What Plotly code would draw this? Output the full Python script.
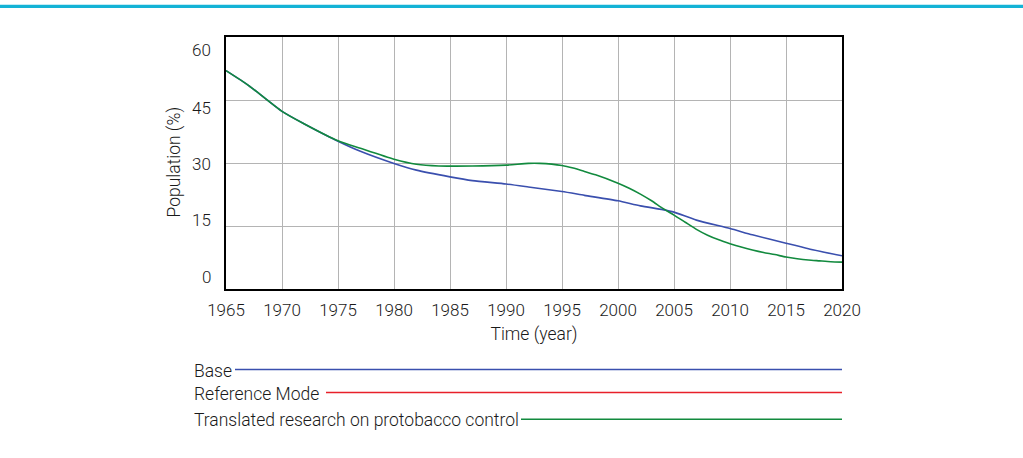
import plotly.graph_objects as go

# Simulated share of the population (%) per year, two scenarios
years = [1965, 1967, 1970, 1972, 1975, 1977, 1980, 1982, 1985, 1987, 1990, 1992,
         1995, 1997, 2000, 2002, 2004, 2005, 2007, 2010, 2012, 2015, 2017, 2020]
base = [52.0, 48.5, 42.3, 39.3, 35.2, 32.8, 29.9, 28.3, 26.7, 25.8, 25.0, 24.3,
        23.2, 22.3, 21.0, 19.8, 18.9, 18.3, 16.4, 14.4, 12.9, 10.9, 9.6, 7.9]

green_years = [1965, 1967, 1970, 1972, 1975, 1977, 1980, 1982, 1984, 1987, 1990, 1992,
               1993, 1995, 1996, 1997, 1998, 2000, 2001, 2002, 2003, 2004, 2005, 2006,
               2007, 2008, 2009, 2010, 2011, 2012, 2013, 2014, 2015, 2016, 2017, 2018,
               2019, 2020]
translated = [52.0, 48.5, 42.3, 39.3, 35.3, 33.5, 30.9, 29.7, 29.3, 29.3, 29.5, 29.9,
              29.9, 29.4, 28.8, 28.0, 27.2, 25.2, 24.0, 22.6, 21.0, 19.2, 17.6, 15.9,
              14.2, 12.8, 11.7, 10.8, 10.0, 9.3, 8.7, 8.2, 7.6, 7.2, 6.9, 6.7, 6.5, 6.4]

x_ticks = list(range(1965, 2021, 5))
y_ticks = [0, 15, 30, 45, 60]

legend_names = ["Base", "Reference Mode", "Translated research on protobacco control"]
legend_colors = ["#3a4fae", "#e8202a", "#128a3e"]

FONT = "Roboto, Liberation Sans, sans-serif"
WEIGHT = 300
TEXT = "#1a1a1a"
TICK_SIZE = 17
LABEL_SIZE = 17.5

fig = go.Figure()
fig.add_trace(go.Scatter(x=years, y=base, mode="lines", name=legend_names[0],
                         line=dict(color=legend_colors[0], width=1.6, shape="spline", smoothing=0.6)))
fig.add_trace(go.Scatter(x=green_years, y=translated, mode="lines", name=legend_names[2],
                         line=dict(color=legend_colors[2], width=1.6, shape="spline", smoothing=0.6)))

W, H = 1023, 458
L, R, T, B = 226, 181, 37, 169
pw, ph = W - L - R, H - T - B


def px_to_paper_x(px):
    return (px - L) / pw


def px_to_paper_y(py):
    return (H - B - py) / ph


shapes = []
annotations = []

# thin cyan rule across the top of the page
shapes.append(dict(type="line", xref="paper", yref="paper",
                   x0=px_to_paper_x(0), x1=px_to_paper_x(W),
                   y0=px_to_paper_y(6.3), y1=px_to_paper_y(6.3),
                   line=dict(color="#13b3d6", width=3.3)))

# y tick labels, spread slightly tighter than the gridlines
y_label_px = [277, 220, 164, 108, 50]
for v, py in zip(y_ticks, y_label_px):
    annotations.append(dict(text=str(v), xref="paper", yref="paper",
                            x=px_to_paper_x(213), y=px_to_paper_y(py),
                            xanchor="right", yanchor="middle", showarrow=False,
                            font=dict(family=FONT, size=TICK_SIZE, weight=WEIGHT, color=TEXT)))

# hand-drawn legend below the chart
legend_rows_y = [369.5, 392.5, 419.3]
legend_line_start = [235, 326, 521]
for name, color, py, lx in zip(legend_names, legend_colors, legend_rows_y, legend_line_start):
    annotations.append(dict(text=name, xref="paper", yref="paper",
                            x=px_to_paper_x(192), y=px_to_paper_y(py + 1),
                            xanchor="left", yanchor="middle", showarrow=False,
                            font=dict(family=FONT, size=LABEL_SIZE, weight=WEIGHT, color=TEXT)))
    shapes.append(dict(type="line", xref="paper", yref="paper",
                       x0=px_to_paper_x(lx), x1=px_to_paper_x(842),
                       y0=px_to_paper_y(py), y1=px_to_paper_y(py),
                       line=dict(color=color, width=1.5)))

fig.update_layout(
    width=W, height=H,
    margin=dict(l=L, r=R, t=T, b=B, pad=0),
    paper_bgcolor="white", plot_bgcolor="white",
    showlegend=False,
    font=dict(family=FONT, size=TICK_SIZE, weight=WEIGHT, color=TEXT),
    shapes=shapes,
    annotations=annotations,
    xaxis=dict(range=[1965, 2020], tickvals=x_ticks, ticktext=[str(v) for v in x_ticks],
               showgrid=True, gridcolor="#b4b4b4", gridwidth=1,
               showline=True, linecolor="black", linewidth=2, mirror=True,
               ticks="", ticklabelstandoff=5, zeroline=False,
               title=dict(text="Time (year)", standoff=8,
                          font=dict(family=FONT, size=LABEL_SIZE, weight=WEIGHT, color=TEXT)),
               tickfont=dict(family=FONT, size=TICK_SIZE, weight=WEIGHT, color=TEXT)),
    yaxis=dict(range=[0, 60], tickvals=y_ticks, showticklabels=False,
               showgrid=True, gridcolor="#b4b4b4", gridwidth=1,
               showline=True, linecolor="black", linewidth=2, mirror=True,
               ticks="", zeroline=False),
)

# vertical axis title placed beside the tick labels
fig.add_annotation(text="Population (%)", xref="paper", yref="paper",
                   x=px_to_paper_x(174), y=px_to_paper_y(162.5), textangle=-90,
                   xanchor="center", yanchor="middle", showarrow=False,
                   font=dict(family=FONT, size=LABEL_SIZE, weight=WEIGHT, color=TEXT))

fig.write_html("out.html")
